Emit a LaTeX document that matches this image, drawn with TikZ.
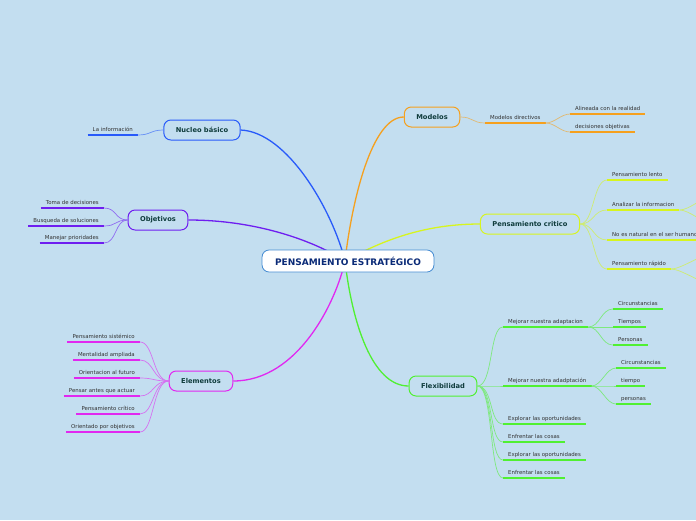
\documentclass[tikz,border=0pt]{standalone}
\usepackage{fontspec}
\setmainfont{DejaVu Sans}
\definecolor{bgc}{RGB}{195,222,240}
\definecolor{cblue}{RGB}{40,90,250}
\definecolor{cpurple}{RGB}{110,30,240}
\definecolor{cmag}{RGB}{225,40,240}
\definecolor{corange}{RGB}{245,160,30}
\definecolor{cyg}{RGB}{215,245,30}
\definecolor{cgreen}{RGB}{80,240,50}
\definecolor{ccenter}{RGB}{70,140,210}
\definecolor{txtmain}{RGB}{15,60,60}
\definecolor{txtleaf}{RGB}{50,50,50}
\begin{document}
\begin{tikzpicture}[x=1pt,y=-1pt,
  mainnode/.style={draw=#1, line width=1pt, rounded corners=7pt, fill=bgc,
    font=\fontsize{6.7}{8}\selectfont\bfseries, text=txtmain, minimum height=20pt, inner xsep=12pt},
  leaf/.style={font=\fontsize{5.4}{6.5}\selectfont, text=txtleaf, inner xsep=5pt, inner ysep=2pt,
    text height=4pt, text depth=1pt,
    append after command={\pgfextra{\let\ulnode\tikzlastnode}
      (\ulnode.south west) edge[line width=1.8pt, draw=#1] (\ulnode.south east)}},
  branch/.style={draw=#1, line width=1.3pt},
  twig/.style={draw=#1!60!bgc, line width=0.7pt}]
\useasboundingbox (0,0) rectangle (696,520);
\fill[bgc] (0,0) rectangle (696,520);
\clip (0,0) rectangle (696,520);
\coordinate (hub) at (345,261);
% main nodes
\node[mainnode=cblue] (nuc) at (202,130) {Nucleo básico};
\node[mainnode=cpurple] (obj) at (158,220) {Objetivos};
\node[mainnode=cmag] (ele) at (201,381) {Elementos};
\node[mainnode=corange] (mod) at (432,117) {Modelos};
\node[mainnode=cyg] (pc) at (530,224) {Pensamiento critico};
\node[mainnode=cgreen] (flx) at (443,386) {Flexibilidad};
% leaves left
\node[leaf=cblue, anchor=south east] (n1) at (138,135) {La información};
\node[leaf=cpurple, anchor=south east] (o1) at (104,208) {Toma de decisiones};
\node[leaf=cpurple, anchor=south east] (o2) at (104,226) {Busqueda de soluciones};
\node[leaf=cpurple, anchor=south east] (o3) at (104,243) {Manejar prioridades};
\node[leaf=cmag, anchor=south east] (e1) at (140,342) {Pensamiento sistémico};
\node[leaf=cmag, anchor=south east] (e2) at (140,360) {Mentalidad ampliada};
\node[leaf=cmag, anchor=south east] (e3) at (140,378) {Orientacion al futuro};
\node[leaf=cmag, anchor=south east] (e4) at (140,396) {Pensar antes que actuar};
\node[leaf=cmag, anchor=south east] (e5) at (140,414) {Pensamiento crítico};
\node[leaf=cmag, anchor=south east] (e6) at (140,432) {Orientado por objetivos};
% leaves right
\node[leaf=corange, anchor=south west] (m1) at (485,123) {Modelos directivos};
\node[leaf=corange, anchor=south west] (m11) at (570,114) {Alineada con la realidad};
\node[leaf=corange, anchor=south west] (m12) at (570,132) {decisiones objetivas};
\node[leaf=cyg, anchor=south west] (p1) at (607,180) {Pensamiento lento};
\node[leaf=cyg, anchor=south west] (p2) at (607,210) {Analizar la informacion};
\node[leaf=cyg, anchor=south west] (p3) at (607,240) {No es natural en el ser humano};
\node[leaf=cyg, anchor=south west] (p4) at (607,269) {Pensamiento rápido};
\coordinate (p2a) at (712,197);
\coordinate (p2b) at (712,223);
\coordinate (p4a) at (712,254);
\coordinate (p4b) at (712,284);
\node[leaf=cgreen, anchor=south west] (f1) at (503,327) {Mejorar nuestra adaptacion};
\node[leaf=cgreen, anchor=south west] (f11) at (613,309) {Circunstancias};
\node[leaf=cgreen, anchor=south west] (f12) at (613,327) {Tiempos};
\node[leaf=cgreen, anchor=south west] (f13) at (613,345) {Personas};
\node[leaf=cgreen, anchor=south west] (f2) at (503,386) {Mejorar nuestra adadptación};
\node[leaf=cgreen, anchor=south west] (f21) at (616,368) {Circunstancias};
\node[leaf=cgreen, anchor=south west] (f22) at (616,386) {tiempo};
\node[leaf=cgreen, anchor=south west] (f23) at (616,404) {personas};
\node[leaf=cgreen, anchor=south west] (f3) at (503,424) {Explorar las oportunidades};
\node[leaf=cgreen, anchor=south west] (f4) at (503,442) {Enfrentar las cosas};
\node[leaf=cgreen, anchor=south west] (f5) at (503,460) {Explorar las oportunidades};
\node[leaf=cgreen, anchor=south west] (f6) at (503,478) {Enfrentar las cosas};
% twigs
\draw[twig=cblue] (nuc.west) .. controls +(-13,0) and +(13,0) .. (n1.south east);
\foreach \n in {o1,o2,o3}
  \draw[twig=cpurple] (obj.west) .. controls +(-13,0) and +(13,0) .. (\n.south east);
\foreach \n in {e1,e2,e3,e4,e5,e6}
  \draw[twig=cmag] (ele.west) .. controls +(-16,0) and +(14,0) .. (\n.south east);
\draw[twig=corange] (mod.east) .. controls +(13,0) and +(-13,0) .. (m1.south west);
\foreach \n in {m11,m12}
  \draw[twig=corange] (m1.south east) .. controls +(9,0) and +(-9,0) .. (\n.south west);
\foreach \n in {p1,p2,p3,p4}
  \draw[twig=cyg] (pc.east) .. controls +(14,0) and +(-14,0) .. (\n.south west);
\foreach \n in {p2a,p2b}
  \draw[twig=cyg] (p2.south east) .. controls +(10,0) and +(-10,0) .. (\n);
\foreach \n in {p4a,p4b}
  \draw[twig=cyg] (p4.south east) .. controls +(10,0) and +(-10,0) .. (\n);
\foreach \n in {f1,f2,f3,f4,f5,f6}
  \draw[twig=cgreen] (flx.east) .. controls +(16,0) and +(-14,0) .. (\n.south west);
\foreach \n in {f11,f12,f13}
  \draw[twig=cgreen] (f1.south east) .. controls +(12,0) and +(-12,0) .. (\n.south west);
\foreach \n in {f21,f22,f23}
  \draw[twig=cgreen] (f2.south east) .. controls +(10,0) and +(-10,0) .. (\n.south west);
% branches
\draw[branch=cblue] (nuc.east) .. controls (288,132) and (333,212) .. (hub);
\draw[branch=cpurple] (obj.east) .. controls (260,220) and (318,243) .. (hub);
\draw[branch=cmag] (ele.east) .. controls (298,381) and (336,302) .. (hub);
\draw[branch=corange] (mod.west) .. controls (372,117) and (352,200) .. (hub);
\draw[branch=cyg] (pc.west) .. controls (420,224) and (378,243) .. (hub);
\draw[branch=cgreen] (flx.west) .. controls (372,386) and (352,322) .. (hub);
% centre
\node[draw=ccenter, line width=0.8pt, fill=white, rounded corners=7pt, minimum height=22pt,
  inner xsep=13pt, text=txtmain!70!blue, font=\fontsize{9}{11}\selectfont\bfseries]
  (centre) at (348,261) {PENSAMIENTO ESTRATÉGICO};
\end{tikzpicture}
\end{document}
